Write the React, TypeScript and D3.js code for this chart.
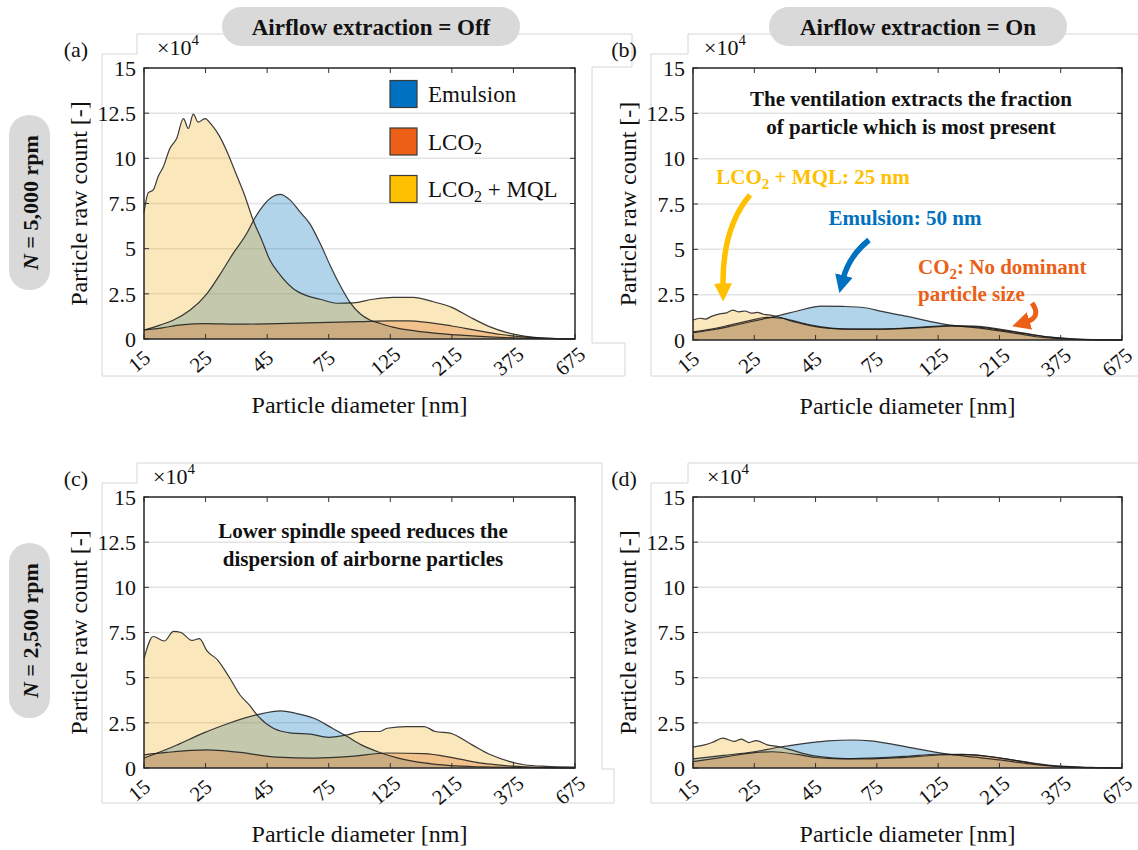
import React, { useEffect, useRef } from "react";
import * as d3 from "d3";

// x categories are evenly spaced diameter bins, values are counts in units of 1e4
const diameterLabels = ["15", "25", "45", "75", "125", "215", "375", "675"];
const countTicks = [0, 2.5, 5, 7.5, 10, 12.5, 15];
const seriesNames = [["Emulsion"], ["LCO", "2"], ["LCO", "2", " + MQL"]];
const areaColors = ["#0072BD", "#D95319", "#EDB120"];
const legendColors = ["#0070C0", "#EB5F16", "#FFC000"];

// [bin position, count] pairs
// (a) N = 5,000 rpm, extraction off
const offHighEmulsion = [[0, 0.5], [0.26, 0.77], [0.48, 1.05], [0.75, 1.6], [1.02, 2.5], [1.23, 3.55], [1.45, 4.75], [1.67, 5.85], [1.8, 6.7], [1.94, 7.4], [2.1, 7.9], [2.21, 8.0], [2.37, 7.7], [2.53, 7.05], [2.69, 6.4], [2.86, 5.3], [3.02, 4.1], [3.18, 3.0], [3.34, 2.06], [3.51, 1.4], [3.67, 1.05], [3.83, 0.87], [4.04, 0.66], [4.4, 0.45], [4.8, 0.3], [5.2, 0.2], [5.6, 0.12], [6.0, 0.06], [6.5, 0.02], [7, 0]];
const offHighLco2 = [[0, 0.5], [0.3, 0.62], [0.6, 0.78], [1.0, 0.85], [1.5, 0.82], [2.0, 0.84], [2.5, 0.88], [3.0, 0.92], [3.5, 0.96], [4.0, 1.0], [4.3, 1.0], [4.6, 0.92], [5.0, 0.72], [5.4, 0.48], [5.8, 0.25], [6.2, 0.1], [6.6, 0.03], [7, 0]];
const offHighMql = [[0, 7.0], [0.07, 8.1], [0.15, 8.25], [0.23, 9.0], [0.31, 9.5], [0.42, 10.55], [0.53, 11.1], [0.64, 12.2], [0.72, 11.65], [0.8, 12.45], [0.88, 12.0], [0.99, 12.2], [1.1, 11.85], [1.23, 11.2], [1.37, 10.2], [1.5, 9.1], [1.64, 7.9], [1.77, 6.6], [1.91, 5.5], [2.04, 4.4], [2.21, 3.55], [2.42, 2.8], [2.64, 2.4], [2.86, 2.2], [3.13, 1.98], [3.4, 2.0], [3.72, 2.2], [4.05, 2.3], [4.37, 2.3], [4.7, 2.06], [5.0, 1.75], [5.3, 1.2], [5.6, 0.7], [5.9, 0.35], [6.2, 0.15], [6.5, 0.05], [7, 0]];

// (b) N = 5,000 rpm, extraction on
const onHighEmulsion = [[0, 0.4], [0.3, 0.55], [0.6, 0.75], [0.9, 0.98], [1.2, 1.2], [1.4, 1.35], [1.7, 1.6], [2.1, 1.87], [2.45, 1.85], [2.8, 1.78], [3.1, 1.56], [3.5, 1.3], [3.9, 1.0], [4.2, 0.82], [4.6, 0.68], [5.0, 0.5], [5.3, 0.35], [5.6, 0.18], [6.0, 0.07], [6.5, 0.02], [7, 0]];
const onHighLco2 = [[0, 0.45], [0.3, 0.6], [0.6, 0.82], [0.9, 1.05], [1.2, 1.25], [1.45, 1.2], [1.7, 1.0], [2.0, 0.78], [2.3, 0.64], [2.6, 0.6], [3.0, 0.6], [3.4, 0.63], [3.8, 0.7], [4.2, 0.76], [4.6, 0.72], [5.0, 0.56], [5.4, 0.36], [5.8, 0.16], [6.2, 0.05], [6.6, 0.01], [7, 0]];
const onHighMql = [[0, 1.1], [0.12, 1.2], [0.2, 1.15], [0.3, 1.3], [0.45, 1.45], [0.55, 1.5], [0.65, 1.65], [0.75, 1.55], [0.85, 1.6], [0.95, 1.48], [1.05, 1.52], [1.15, 1.42], [1.3, 1.35], [1.45, 1.22], [1.6, 1.05], [1.8, 0.88], [2.0, 0.74], [2.3, 0.63], [2.6, 0.6], [3.0, 0.6], [3.4, 0.64], [3.8, 0.72], [4.2, 0.8], [4.6, 0.76], [5.0, 0.6], [5.4, 0.38], [5.8, 0.17], [6.2, 0.06], [6.6, 0.01], [7, 0]];

// (c) N = 2,500 rpm, extraction off
const offLowEmulsion = [[0, 0.55], [0.48, 1.19], [0.96, 1.93], [1.38, 2.48], [1.86, 2.97], [2.22, 3.16], [2.46, 3.03], [2.76, 2.75], [3.06, 2.2], [3.3, 1.74], [3.53, 1.28], [3.83, 0.86], [4.13, 0.55], [4.55, 0.28], [4.97, 0.13], [5.5, 0.06], [6.0, 0.03], [7, 0]];
const offLowLco2 = [[0, 0.73], [0.36, 0.86], [1.02, 1.0], [1.56, 0.86], [2.16, 0.6], [2.76, 0.55], [3.36, 0.64], [3.95, 0.83], [4.55, 0.8], [5.03, 0.56], [5.45, 0.28], [5.87, 0.13], [6.3, 0.05], [7, 0]];
const offLowMql = [[0, 6.05], [0.15, 7.28], [0.33, 7.03], [0.48, 7.56], [0.6, 7.5], [0.78, 7.06], [0.9, 7.16], [1.02, 6.5], [1.2, 5.96], [1.38, 5.05], [1.56, 4.04], [1.71, 3.49], [1.86, 2.84], [2.1, 2.2], [2.4, 1.93], [2.7, 1.87], [3.0, 1.7], [3.3, 1.83], [3.53, 2.02], [3.83, 2.02], [3.95, 2.2], [4.25, 2.29], [4.55, 2.29], [4.73, 2.02], [4.97, 1.93], [5.33, 1.28], [5.63, 0.73], [5.93, 0.37], [6.17, 0.18], [6.53, 0.09], [7, 0.05]];

// (d) N = 2,500 rpm, extraction on
const onLowEmulsion = [[0, 0.5], [0.5, 0.7], [1.0, 0.9], [1.4, 1.15], [1.8, 1.35], [2.2, 1.5], [2.6, 1.55], [2.9, 1.5], [3.2, 1.35], [3.6, 1.1], [4.0, 0.85], [4.2, 0.75], [4.6, 0.6], [5.0, 0.45], [5.5, 0.22], [6.0, 0.07], [6.5, 0.02], [7, 0]];
const onLowLco2 = [[0, 0.35], [0.5, 0.6], [1.0, 0.85], [1.3, 0.9], [1.7, 0.75], [2.0, 0.58], [2.4, 0.5], [2.8, 0.5], [3.2, 0.55], [3.6, 0.62], [4.0, 0.72], [4.4, 0.75], [4.8, 0.65], [5.2, 0.45], [5.6, 0.22], [6.0, 0.08], [6.5, 0.02], [7, 0]];
const onLowMql = [[0, 1.16], [0.19, 1.28], [0.31, 1.41], [0.49, 1.65], [0.67, 1.47], [0.79, 1.6], [0.91, 1.41], [1.03, 1.52], [1.21, 1.28], [1.39, 1.19], [1.6, 1.0], [1.8, 0.8], [2.1, 0.62], [2.5, 0.52], [3.0, 0.56], [3.5, 0.65], [4.0, 0.76], [4.5, 0.74], [5.0, 0.56], [5.5, 0.3], [6.0, 0.1], [6.5, 0.03], [7, 0]];

const SERIF = "Liberation Serif, Tinos, DejaVu Serif, serif";

const panels = [
  { letter: "(a)", x0: 144, x1: 575, y0: 68, y1: 339, series: [offHighEmulsion, offHighLco2, offHighMql], expX: 157, letterX: 76, frame: "M102,376V54H137V34H632V67H592V343H625V376Z" },
  { letter: "(b)", x0: 693, x1: 1122, y0: 68, y1: 340, series: [onHighEmulsion, onHighLco2, onHighMql], expX: 704, letterX: 624, frame: "M1138,376H651V54H688V34H1138" },
  { letter: "(c)", x0: 144, x1: 575, y0: 497, y1: 768, series: [offLowEmulsion, offLowLco2, offLowMql], expX: 153, letterX: 76, frame: "M102,803V483H137V463H602V769H614V803Z" },
  { letter: "(d)", x0: 693, x1: 1122, y0: 497, y1: 768, series: [onLowEmulsion, onLowLco2, onLowMql], expX: 707, letterX: 624, frame: "M1138,803H651V483H688V463H1138" },
];

// writes text parts, every odd part as subscript
function subText(sel, parts, subSize) {
  parts.forEach((p, i) => {
    if (i % 2 === 1) {
      sel.append("tspan").attr("dy", subSize * 0.3).attr("font-size", subSize).text(p);
    } else {
      sel.append("tspan").attr("dy", i === 0 ? 0 : -subSize * 0.3).text(p);
    }
  });
}

function drawPanel(svg, p) {
  const x = d3.scaleLinear().domain([0, diameterLabels.length - 1]).range([p.x0, p.x1]);
  const y = d3.scaleLinear().domain([0, 15]).range([p.y1, p.y0]);
  const g = svg.append("g");

  g.append("path").attr("d", p.frame).attr("fill", "none").attr("stroke", "#d6d6d6").attr("stroke-width", 1);

  g.append("rect").attr("x", p.x0).attr("y", p.y0).attr("width", p.x1 - p.x0).attr("height", p.y1 - p.y0).attr("fill", "#fff");

  // horizontal grid
  g.selectAll(".grid").data(countTicks.slice(1, -1)).enter().append("line")
    .attr("x1", p.x0).attr("x2", p.x1).attr("y1", d => y(d)).attr("y2", d => y(d))
    .attr("stroke", "#e3e3e3").attr("stroke-width", 1.5);

  const area = d3.area().x(d => x(d[0])).y0(y(0)).y1(d => y(d[1])).curve(d3.curveMonotoneX);
  const line = d3.line().x(d => x(d[0])).y(d => y(d[1])).curve(d3.curveMonotoneX);

  p.series.forEach((s, i) => {
    g.append("path").datum(s).attr("d", area).attr("fill", areaColors[i]).attr("fill-opacity", 0.3);
  });
  p.series.forEach(s => {
    g.append("path").datum(s).attr("d", line).attr("fill", "none").attr("stroke", "#1a1a1a").attr("stroke-width", 1.2).attr("stroke-opacity", 0.85);
  });

  // ticks inside the box
  diameterLabels.forEach((l, i) => {
    g.append("line").attr("x1", x(i)).attr("x2", x(i)).attr("y1", p.y1).attr("y2", p.y1 - 5).attr("stroke", "#333");
    g.append("line").attr("x1", x(i)).attr("x2", x(i)).attr("y1", p.y0).attr("y2", p.y0 + 5).attr("stroke", "#333");
    g.append("text")
      .attr("transform", "translate(" + (x(i) - 5) + "," + (p.y1 + 22) + ") rotate(-40)")
      .attr("text-anchor", "middle").attr("dy", "0.35em")
      .attr("font-family", SERIF).attr("font-size", 21).attr("fill", "#111")
      .text(l);
  });
  countTicks.forEach(t => {
    g.append("line").attr("x1", p.x0).attr("x2", p.x0 + 5).attr("y1", y(t)).attr("y2", y(t)).attr("stroke", "#333");
    g.append("line").attr("x1", p.x1).attr("x2", p.x1 - 5).attr("y1", y(t)).attr("y2", y(t)).attr("stroke", "#333");
    g.append("text").attr("x", p.x0 - 8).attr("y", y(t)).attr("dy", "0.35em")
      .attr("text-anchor", "end").attr("font-family", SERIF).attr("font-size", 22).attr("fill", "#111")
      .text(t);
  });

  g.append("rect").attr("x", p.x0).attr("y", p.y0).attr("width", p.x1 - p.x0).attr("height", p.y1 - p.y0)
    .attr("fill", "none").attr("stroke", "#262626").attr("stroke-width", 1.5);

  // exponent
  const ex = g.append("text").attr("x", p.expX).attr("y", p.y0 - 13).attr("font-family", SERIF).attr("font-size", 22).attr("fill", "#111");
  ex.append("tspan").text("×10");
  ex.append("tspan").attr("dy", -10).attr("font-size", 15).text("4");

  g.append("text").attr("x", p.letterX).attr("y", p.y0 - 11).attr("text-anchor", "middle")
    .attr("font-family", SERIF).attr("font-size", 22).attr("fill", "#111").text(p.letter);

  g.append("text").attr("transform", "translate(" + (p.x0 - 57) + "," + (p.y0 + p.y1) / 2 + ") rotate(-90)")
    .attr("text-anchor", "middle").attr("font-family", SERIF).attr("font-size", 24).attr("fill", "#111")
    .text("Particle raw count [-]");
  g.append("text").attr("x", (p.x0 + p.x1) / 2).attr("y", p.y1 + 74).attr("text-anchor", "middle")
    .attr("font-family", SERIF).attr("font-size", 24).attr("fill", "#111")
    .text("Particle diameter [nm]");

  return { x, y, g };
}

function arrowMarker(defs, id, color) {
  defs.append("marker").attr("id", id).attr("viewBox", "0 0 10 10").attr("refX", 2).attr("refY", 5)
    .attr("markerWidth", 18).attr("markerHeight", 18).attr("markerUnits", "userSpaceOnUse").attr("orient", "auto")
    .append("path").attr("d", "M0,0L10,5L0,10Z").attr("fill", color);
}

export default function App() {
  const ref = useRef(null);

  useEffect(() => {
    const svg = d3.select(ref.current);
    svg.selectAll("*").remove();
    svg.append("rect").attr("width", 1138).attr("height", 850).attr("fill", "#fff");
    const defs = svg.append("defs");
    arrowMarker(defs, "arrY", legendColors[2]);
    arrowMarker(defs, "arrB", legendColors[0]);
    arrowMarker(defs, "arrO", legendColors[1]);

    const drawn = panels.map(p => drawPanel(svg, p));

    // column headers
    [["Airflow extraction = Off", 222], ["Airflow extraction = On", 769]].forEach(([t, left]) => {
      svg.append("rect").attr("x", left).attr("y", 7).attr("width", 298).attr("height", 39).attr("rx", 19.5).attr("fill", "#d9d9d9");
      svg.append("text").attr("x", left + 149).attr("y", 27).attr("dy", "0.35em").attr("text-anchor", "middle")
        .attr("font-family", SERIF).attr("font-weight", "bold").attr("font-size", 23).attr("fill", "#111").text(t);
    });

    // row labels
    [["5,000", 115], ["2,500", 543]].forEach(([n, top]) => {
      svg.append("rect").attr("x", 9).attr("y", top).attr("width", 41).attr("height", 175).attr("rx", 20).attr("fill", "#d9d9d9");
      const t = svg.append("text").attr("transform", "translate(30," + (top + 87.5) + ") rotate(-90)")
        .attr("dy", "0.35em").attr("text-anchor", "middle")
        .attr("font-family", SERIF).attr("font-weight", "bold").attr("font-size", 22).attr("fill", "#111");
      t.append("tspan").attr("font-style", "italic").text("N");
      t.append("tspan").text(" = " + n + " rpm");
    });

    // legend in (a)
    const leg = drawn[0].g;
    seriesNames.forEach((parts, i) => {
      const cy = 94 + i * 47.5;
      leg.append("rect").attr("x", 390).attr("y", cy - 13.5).attr("width", 27).attr("height", 27)
        .attr("fill", legendColors[i]).attr("stroke", "#3a3a3a").attr("stroke-width", 1.2);
      const t = leg.append("text").attr("x", 428).attr("y", cy + 8).attr("font-family", SERIF).attr("font-size", 23).attr("fill", "#111");
      subText(t, parts, 16);
    });

    // annotations (b)
    const gb = drawn[1].g;
    const bold = (g, x, y, color, size, anchor = "middle") => g.append("text").attr("x", x).attr("y", y).attr("text-anchor", anchor)
      .attr("font-family", SERIF).attr("font-weight", "bold").attr("font-size", size).attr("fill", color);
    bold(gb, 911, 106, "#111", 21).text("The ventilation extracts the fraction");
    bold(gb, 911, 134, "#111", 21).text("of particle which is most present");
    subText(bold(gb, 813, 184, legendColors[2], 21), ["LCO", "2", " + MQL: 25 nm"], 15);
    bold(gb, 905, 225, legendColors[0], 21).text("Emulsion: 50 nm");
    subText(bold(gb, 918, 274, legendColors[1], 21, "start"), ["CO", "2", ": No dominant"], 15);
    bold(gb, 918, 301, legendColors[1], 21, "start").text("particle size");

    gb.append("path").attr("d", "M750,195 Q722,228 723,287").attr("fill", "none")
      .attr("stroke", legendColors[2]).attr("stroke-width", 5.5).attr("marker-end", "url(#arrY)");
    gb.append("path").attr("d", "M869,240 Q849,256 843,279").attr("fill", "none")
      .attr("stroke", legendColors[0]).attr("stroke-width", 5.5).attr("marker-end", "url(#arrB)");
    gb.append("path").attr("d", "M1032,303 Q1042,317 1026,322").attr("fill", "none")
      .attr("stroke", legendColors[1]).attr("stroke-width", 5).attr("marker-end", "url(#arrO)");

    // annotation (c)
    const gc = drawn[2].g;
    bold(gc, 363, 538, "#111", 21).text("Lower spindle speed reduces the");
    bold(gc, 363, 566, "#111", 21).text("dispersion of airborne particles");
  }, []);

  return (
    <svg ref={ref} width={1138} height={850} style={{ position: "absolute", left: 0, top: 0, display: "block" }} />
  );
}
